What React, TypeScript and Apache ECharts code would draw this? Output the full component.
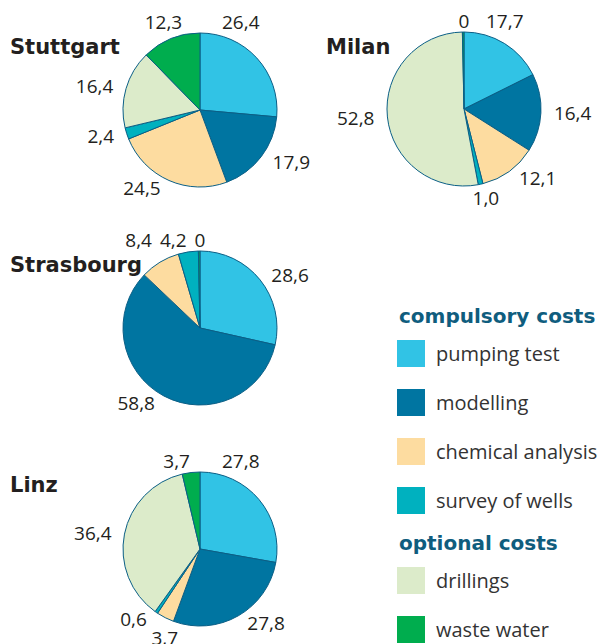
import React, { useEffect, useRef } from "react";
import * as echarts from "echarts";

const categories = ["pumping test", "modelling", "chemical analysis", "survey of wells", "drillings", "waste water"];
const compulsory = ["pumping test", "modelling", "chemical analysis", "survey of wells"];
const optional = ["drillings", "waste water"];
const colors = ["#31c3e5", "#0075a1", "#fddca0", "#00b1bf", "#dcebca", "#00ad4e"];

const cities = ["Stuttgart", "Milan", "Strasbourg", "Linz"];
// "-" = category absent from that city's pie
const stuttgart = [26.4, 17.9, 24.5, 2.4, 16.4, 12.3];
const milan = [17.7, 16.4, 12.1, 1.0, 52.8, 0];
const strasbourg = [28.6, 58.8, 8.4, 4.2, "-", 0];
const linz = [27.8, 27.8, 3.7, 0.6, 36.4, 3.7];
const cityValues: any[][] = [stuttgart, milan, strasbourg, linz];

const pieCenters = [[200, 110], [464, 109], [200, 328], [200, 549]];
const pieRadius = 77;
const titlePos = [[10, 36], [326, 36], [10, 254], [10, 474]];

const FONT = "'Open Sans', 'Liberation Sans', sans-serif";
const BOLD = "'DejaVu Sans', 'Open Sans', sans-serif";
const LABEL_SIZE = 19;

function fmt(v: number) {
  if (v === 0) return "0";
  return v.toFixed(1).replace(".", ",");
}

function textWidth(s: string) {
  const c = document.createElement("canvas").getContext("2d");
  if (!c) return s.length * 10;
  c.font = `${LABEL_SIZE}px ${FONT}`;
  return c.measureText(s).width;
}

// label placement rules, derived from each slice's mid angle
function buildLabelLayouts() {
  return cityValues.map((vals, s) => {
    const [cx, cy] = pieCenters[s];
    const r = pieRadius;
    const nums = vals.map((v) => (typeof v === "number" ? v : 0));
    const sum = nums.reduce((a, b) => a + b, 0);
    let cum = 0;
    const mids = nums.map((v) => {
      const m = ((cum + v / 2) / sum) * 360;
      cum += v;
      return m;
    });
    const res: any[] = vals.map(() => null);
    const topY = cy - r - 11;
    const tops: { j: number; t: number }[] = [];
    vals.forEach((v, j) => {
      if (typeof v !== "number") return;
      const th = mids[j] > 180 ? mids[j] - 360 : mids[j];
      const rad = (mids[j] * Math.PI) / 180;
      if (Math.abs(th) < 50.8) {
        tops.push({ j, t: th });
      } else if (v < 5 && Math.abs(mids[j] - 180) < 30) {
        res[j] = { x: cx + (r + 10) * Math.sin(rad) + 4, y: cy + r + 12, align: "center", verticalAlign: "middle" };
      }
    });
    let prevLeft = Infinity;
    tops.forEach(({ j, t }) => {
      if (t >= 5) res[j] = { x: cx + 22, y: topY, align: "left", verticalAlign: "middle" };
      else if (t > -5) {
        res[j] = { x: cx, y: topY, align: "center", verticalAlign: "middle" };
        prevLeft = cx - textWidth(fmt(vals[j])) / 2;
      }
    });
    tops
      .filter((o) => o.t <= -5)
      .sort((a, b) => b.t - a.t)
      .forEach(({ j, t }) => {
        const rad = (t * Math.PI) / 180;
        const right = Math.min(cx - 10, cx + (r + 10) * Math.sin(rad) + 15, prevLeft - 8);
        res[j] = { x: right, y: topY, align: "right", verticalAlign: "middle" };
        prevLeft = right - textWidth(fmt(vals[j]));
      });
    return res;
  });
}

export default function App() {
  const ref = useRef<HTMLDivElement>(null);
  useEffect(() => {
    if (!ref.current) return;
    const chart = echarts.init(ref.current, null, { renderer: "svg" });
    const layouts = buildLabelLayouts();
    const series = cityValues.map((vals, i) => ({
      type: "pie",
      name: cities[i],
      center: pieCenters[i],
      radius: pieRadius,
      startAngle: 90,
      clockwise: true,
      minAngle: 1.2,
      avoidLabelOverlap: false,
      silent: true,
      itemStyle: { borderColor: "#0b5f86", borderWidth: 1 },
      label: {
        show: true,
        position: "outside",
        alignTo: "none",
        distanceToLabelLine: 5,
        fontFamily: FONT,
        fontSize: LABEL_SIZE,
        color: "#231f20",
        formatter: (p: any) => fmt(p.value),
      },
      labelLine: { show: false, length: 8, length2: 0 },
      labelLayout: (p: any) => {
        const l = layouts[p.seriesIndex] && layouts[p.seriesIndex][p.dataIndex];
        return l || {};
      },
      emphasis: { disabled: true },
      data: categories.map((c, j) => ({ name: c, value: vals[j] })),
    }));
    const option = {
      animation: false,
      color: colors,
      title: [
        ...cities.map((c, i) => ({
          text: c,
          left: titlePos[i][0],
          top: titlePos[i][1],
          padding: 0,
          textStyle: { fontFamily: BOLD, fontSize: 21, fontWeight: "bold", color: "#231f20" },
        })),
        {
          text: "compulsory costs",
          left: 399,
          top: 306,
          padding: 0,
          textStyle: { fontFamily: BOLD, fontSize: 20, fontWeight: "bold", color: "#0f5d7e" },
        },
        {
          text: "optional costs",
          left: 399,
          top: 533,
          padding: 0,
          textStyle: { fontFamily: BOLD, fontSize: 20, fontWeight: "bold", color: "#0f5d7e" },
        },
      ],
      legend: [
        {
          data: compulsory,
          orient: "vertical",
          left: 397,
          top: 340,
          padding: 0,
          itemWidth: 28,
          itemHeight: 27,
          itemGap: 22,
          icon: "rect",
          selectedMode: false,
          itemStyle: { borderWidth: 0 },
          textStyle: { fontFamily: FONT, fontSize: 20, color: "#333333", padding: [0, 0, 0, 6] },
        },
        {
          data: optional,
          orient: "vertical",
          left: 397,
          top: 567,
          padding: 0,
          itemWidth: 28,
          itemHeight: 27,
          itemGap: 22,
          icon: "rect",
          selectedMode: false,
          itemStyle: { borderWidth: 0 },
          textStyle: { fontFamily: FONT, fontSize: 20, color: "#333333", padding: [0, 0, 0, 6] },
        },
      ],
      series,
    };
    chart.setOption(option as any);
    return () => chart.dispose();
  }, []);
  return (
    <div
      ref={ref}
      style={{ position: "fixed", left: 0, top: 0, width: 602, height: 644, background: "#ffffff" }}
    />
  );
}
